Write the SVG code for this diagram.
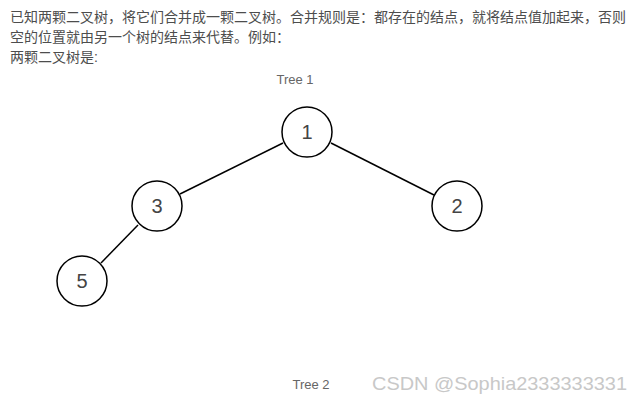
<svg xmlns="http://www.w3.org/2000/svg" width="643" height="402" viewBox="0 0 643 402">
<style>
.p{font-family:"Liberation Sans","Noto Sans CJK SC",sans-serif;font-size:14px;fill:#4d4d4d}
.lbl{font-family:"Liberation Sans",Arial,sans-serif;font-size:13px;fill:#666;text-anchor:middle}
.n circle{fill:#fff;stroke:#000;stroke-width:1.5}
.n text{font-family:"Liberation Sans",Arial,sans-serif;font-size:20px;fill:#444;text-anchor:middle;dominant-baseline:central}
.e line{stroke:#000;stroke-width:1.5}
.wm{font-family:"Liberation Sans",Arial,sans-serif;font-size:19px;fill:#c8c8c8}
</style>
<rect width="643" height="402" fill="#fff"/>
<text class="p" x="10" y="22">已知两颗二叉树，将它们合并成一颗二叉树。合并规则是：都存在的结点，就将结点值加起来，否则</text>
<text class="p" x="10" y="42">空的位置就由另一个树的结点来代替。例如：</text>
<text class="p" x="10" y="62">两颗二叉树是:</text>
<text class="lbl" x="295" y="84">Tree 1</text>
<g class="e" id="edges">
<line x1="283" y1="143" x2="180" y2="194"/>
<line x1="331" y1="143" x2="434" y2="195"/>
<line x1="138" y1="225" x2="101" y2="263"/>
</g>
<g class="n" id="node1"><circle cx="307" cy="132" r="25"/><text x="307" y="132">1</text></g>
<g class="n" id="node3"><circle cx="157" cy="206" r="25"/><text x="157" y="206">3</text></g>
<g class="n" id="node2"><circle cx="457" cy="206" r="25"/><text x="457" y="206">2</text></g>
<g class="n" id="node5"><circle cx="82" cy="281" r="25"/><text x="82" y="281">5</text></g>
<text class="lbl" x="311" y="389">Tree 2</text>
<text class="wm" x="372" y="390" textLength="255" lengthAdjust="spacingAndGlyphs">CSDN @Sophia2333333331</text>
</svg>
